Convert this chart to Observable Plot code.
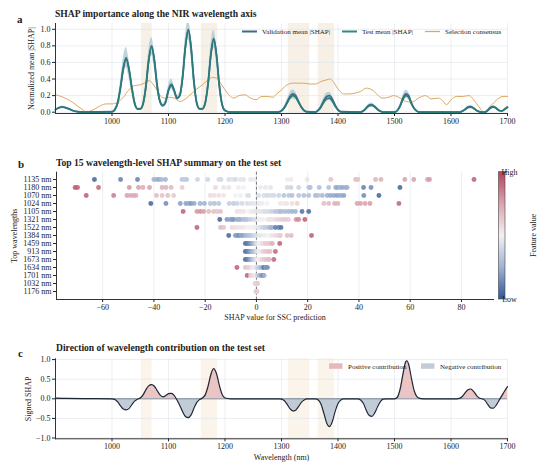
<!DOCTYPE html>
<html><head><meta charset="utf-8">
<script src="https://cdn.jsdelivr.net/npm/d3@7"></script>
<script src="https://cdn.jsdelivr.net/npm/@observablehq/plot@0.6"></script>
<style>
body{margin:0;background:#fff;}
#root{position:relative;width:550px;height:473px;overflow:hidden;background:#fff;}
</style></head>
<body><div id="root"></div>
<script>
// ---------- DATA ----------
const xTicks = [1000, 1100, 1200, 1300, 1400, 1500, 1600, 1700];
const yTicksA = [0, 0.2, 0.4, 0.6, 0.8, 1.0];
const yTicksC = [-1, -0.5, 0, 0.5, 1];
const xTicksB = [-60, -40, -20, 0, 20, 40, 60, 80];
const highlightBands = [[1052, 1071], [1158, 1187], [1312, 1350], [1365, 1394]];

const testMean = [[900,0.03],[905,0.05],[912,0.062],[920,0.05],[930,0.02],[940,0.005],[950,0],[1000,0.005],[1005,0.03],[1010,0.11],[1015,0.3],[1020,0.54],[1025,0.66],[1030,0.53],[1035,0.3],[1040,0.11],[1045,0.04],[1050,0.04],[1055,0.1],[1060,0.3],[1065,0.62],[1070,0.79],[1075,0.62],[1080,0.31],[1085,0.13],[1090,0.08],[1095,0.13],[1100,0.27],[1105,0.34],[1110,0.27],[1115,0.17],[1120,0.2],[1125,0.42],[1130,0.79],[1135,1.0],[1140,0.78],[1145,0.37],[1150,0.11],[1155,0.04],[1160,0.04],[1165,0.11],[1170,0.34],[1175,0.7],[1180,0.89],[1185,0.69],[1190,0.32],[1195,0.09],[1200,0.02],[1210,0],[1290,0],[1295,0.003],[1300,0.015],[1305,0.05],[1310,0.11],[1315,0.17],[1320,0.2],[1325,0.18],[1330,0.12],[1335,0.06],[1340,0.02],[1345,0.005],[1360,0],[1365,0.02],[1370,0.06],[1375,0.12],[1380,0.16],[1385,0.17],[1390,0.13],[1395,0.07],[1400,0.025],[1405,0.005],[1440,0],[1445,0.015],[1450,0.045],[1455,0.075],[1460,0.08],[1465,0.06],[1470,0.03],[1475,0.01],[1480,0],[1500,0],[1505,0.02],[1510,0.07],[1515,0.15],[1520,0.2],[1525,0.18],[1530,0.1],[1535,0.04],[1540,0.01],[1545,0],[1615,0],[1620,0.01],[1625,0.03],[1630,0.055],[1635,0.06],[1640,0.045],[1645,0.02],[1650,0.005],[1655,0],[1660,0],[1665,0.02],[1670,0.05],[1675,0.06],[1680,0.045],[1685,0.02],[1690,0.015],[1695,0.035],[1700,0.06]];

const validationMean = [[900,0.03],[905,0.05],[912,0.06],[920,0.05],[930,0.02],[940,0.005],[950,0],[1000,0.005],[1005,0.03],[1010,0.11],[1015,0.29],[1020,0.52],[1025,0.64],[1030,0.52],[1035,0.3],[1040,0.11],[1045,0.04],[1050,0.04],[1055,0.1],[1060,0.31],[1065,0.63],[1070,0.8],[1075,0.63],[1080,0.32],[1085,0.13],[1090,0.08],[1095,0.12],[1100,0.26],[1105,0.32],[1110,0.26],[1115,0.17],[1120,0.2],[1125,0.42],[1130,0.79],[1135,0.99],[1140,0.78],[1145,0.37],[1150,0.11],[1155,0.04],[1160,0.04],[1165,0.11],[1170,0.34],[1175,0.69],[1180,0.88],[1185,0.69],[1190,0.32],[1195,0.09],[1200,0.02],[1210,0],[1290,0],[1295,0.004],[1300,0.017],[1305,0.055],[1310,0.12],[1315,0.19],[1320,0.22],[1325,0.2],[1330,0.13],[1335,0.065],[1340,0.02],[1345,0.005],[1360,0],[1365,0.025],[1370,0.07],[1375,0.14],[1380,0.19],[1385,0.2],[1390,0.155],[1395,0.085],[1400,0.03],[1405,0.005],[1440,0],[1445,0.017],[1450,0.05],[1455,0.085],[1460,0.09],[1465,0.068],[1470,0.035],[1475,0.012],[1480,0],[1500,0],[1505,0.02],[1510,0.08],[1515,0.17],[1520,0.22],[1525,0.2],[1530,0.11],[1535,0.045],[1540,0.012],[1545,0],[1615,0],[1620,0.012],[1625,0.035],[1630,0.062],[1635,0.068],[1640,0.05],[1645,0.022],[1650,0.006],[1655,0],[1660,0],[1665,0.022],[1670,0.055],[1675,0.066],[1680,0.05],[1685,0.022],[1690,0.015],[1695,0.035],[1700,0.06]];

// [wavelength, low, high] of the shaded spread
const spreadBand = [[900,0.025,0.04],[905,0.04,0.06],[912,0.05,0.075],[920,0.04,0.06],[930,0.015,0.025],[940,0.003,0.008],[950,0,0.002],[1000,0.003,0.008],[1005,0.02,0.04],[1010,0.08,0.14],[1015,0.23,0.37],[1020,0.43,0.65],[1025,0.54,0.78],[1030,0.42,0.64],[1035,0.23,0.37],[1040,0.08,0.14],[1045,0.03,0.05],[1050,0.03,0.05],[1055,0.07,0.13],[1060,0.24,0.37],[1065,0.52,0.74],[1070,0.69,0.9],[1075,0.52,0.74],[1080,0.25,0.38],[1085,0.1,0.16],[1090,0.06,0.1],[1095,0.1,0.16],[1100,0.22,0.32],[1105,0.28,0.4],[1110,0.22,0.32],[1115,0.14,0.2],[1120,0.16,0.24],[1125,0.34,0.51],[1130,0.67,0.92],[1135,0.88,1.12],[1140,0.66,0.91],[1145,0.3,0.44],[1150,0.08,0.14],[1155,0.03,0.05],[1160,0.03,0.05],[1165,0.08,0.14],[1170,0.27,0.41],[1175,0.59,0.81],[1180,0.78,0.99],[1185,0.58,0.8],[1190,0.25,0.39],[1195,0.07,0.11],[1200,0.015,0.025],[1210,0,0.002],[1290,0,0.002],[1295,0.002,0.006],[1300,0.012,0.022],[1305,0.04,0.07],[1310,0.09,0.15],[1315,0.14,0.23],[1320,0.16,0.27],[1325,0.15,0.24],[1330,0.1,0.16],[1335,0.05,0.08],[1340,0.015,0.03],[1345,0.003,0.007],[1360,0,0.002],[1365,0.015,0.03],[1370,0.05,0.09],[1375,0.1,0.17],[1380,0.13,0.23],[1385,0.14,0.24],[1390,0.11,0.19],[1395,0.06,0.1],[1400,0.02,0.04],[1405,0.003,0.007],[1440,0,0.002],[1445,0.012,0.022],[1450,0.037,0.062],[1455,0.062,0.1],[1460,0.066,0.11],[1465,0.05,0.082],[1470,0.025,0.042],[1475,0.008,0.015],[1480,0,0.002],[1500,0,0.002],[1505,0.016,0.026],[1510,0.058,0.095],[1515,0.125,0.2],[1520,0.17,0.265],[1525,0.15,0.24],[1530,0.085,0.135],[1535,0.033,0.055],[1540,0.008,0.015],[1545,0,0.002],[1615,0,0.002],[1620,0.008,0.014],[1625,0.025,0.042],[1630,0.046,0.074],[1635,0.05,0.08],[1640,0.037,0.06],[1645,0.016,0.027],[1650,0.004,0.008],[1655,0,0.002],[1660,0,0.002],[1665,0.016,0.027],[1670,0.042,0.066],[1675,0.05,0.08],[1680,0.037,0.06],[1685,0.016,0.027],[1690,0.012,0.02],[1695,0.03,0.046],[1700,0.05,0.075]];

const selectionConsensus = [[900,0.21],[910,0.19],[920,0.16],[930,0.12],[940,0.07],[950,0.02],[955,0.0],[960,0.01],[970,0.04],[980,0.08],[990,0.1],[1000,0.1],[1010,0.12],[1020,0.18],[1030,0.27],[1040,0.32],[1050,0.33],[1060,0.36],[1065,0.38],[1070,0.36],[1080,0.26],[1088,0.18],[1095,0.17],[1100,0.18],[1110,0.17],[1120,0.13],[1130,0.16],[1140,0.22],[1150,0.28],[1160,0.33],[1170,0.39],[1178,0.42],[1185,0.41],[1190,0.37],[1200,0.27],[1208,0.2],[1215,0.17],[1225,0.2],[1235,0.21],[1245,0.17],[1255,0.15],[1265,0.19],[1275,0.19],[1285,0.18],[1290,0.21],[1300,0.27],[1310,0.33],[1320,0.35],[1330,0.35],[1340,0.35],[1350,0.34],[1360,0.34],[1370,0.37],[1380,0.39],[1385,0.4],[1390,0.38],[1400,0.28],[1410,0.22],[1420,0.22],[1430,0.23],[1440,0.25],[1450,0.29],[1460,0.27],[1470,0.21],[1478,0.17],[1490,0.18],[1498,0.2],[1510,0.17],[1520,0.13],[1530,0.12],[1545,0.18],[1555,0.2],[1565,0.16],[1578,0.17],[1585,0.14],[1592,0.09],[1600,0.15],[1610,0.19],[1620,0.19],[1632,0.2],[1640,0.15],[1650,0.06],[1658,0.0],[1665,0.04],[1675,0.11],[1685,0.17],[1692,0.19],[1700,0.19]];

const signedShap = [[900,0.015],[920,0.01],[950,0.005],[1000,0],[1005,-0.02],[1010,-0.08],[1015,-0.18],[1020,-0.26],[1025,-0.28],[1030,-0.25],[1035,-0.15],[1040,-0.06],[1045,-0.01],[1050,0.02],[1055,0.1],[1060,0.23],[1065,0.33],[1070,0.36],[1075,0.32],[1080,0.21],[1085,0.1],[1090,0.05],[1095,0.08],[1100,0.13],[1105,0.14],[1110,0.09],[1115,-0.03],[1120,-0.17],[1125,-0.33],[1130,-0.45],[1135,-0.48],[1140,-0.41],[1145,-0.24],[1150,-0.09],[1155,-0.02],[1160,0.02],[1165,0.1],[1170,0.32],[1175,0.62],[1180,0.77],[1185,0.64],[1190,0.34],[1195,0.11],[1200,0.02],[1210,0],[1295,0],[1300,-0.01],[1305,-0.05],[1310,-0.14],[1315,-0.25],[1320,-0.31],[1325,-0.29],[1330,-0.2],[1335,-0.09],[1340,-0.03],[1345,0],[1360,0],[1365,-0.03],[1370,-0.14],[1375,-0.37],[1380,-0.62],[1385,-0.71],[1390,-0.58],[1395,-0.32],[1400,-0.12],[1405,-0.03],[1410,0],[1435,0],[1440,-0.03],[1445,-0.12],[1450,-0.29],[1455,-0.42],[1460,-0.45],[1465,-0.36],[1470,-0.2],[1475,-0.07],[1480,-0.01],[1485,0],[1500,0],[1505,0.04],[1510,0.25],[1515,0.63],[1520,0.95],[1522,0.97],[1525,0.88],[1530,0.52],[1535,0.2],[1540,0.05],[1545,0.01],[1550,0],[1610,0],[1615,0.01],[1620,0.06],[1625,0.15],[1630,0.23],[1635,0.25],[1640,0.19],[1645,0.09],[1650,0.02],[1655,0],[1660,-0.04],[1665,-0.14],[1670,-0.23],[1675,-0.24],[1680,-0.16],[1685,-0.04],[1690,0.08],[1695,0.2],[1700,0.31]];

// Panel b: [SHAP value, normalized feature value]
const wavelengths = ["1135 nm","1180 nm","1070 nm","1024 nm","1105 nm","1321 nm","1522 nm","1384 nm","1459 nm","913 nm","1673 nm","1634 nm","1701 nm","1032 nm","1176 nm"];
const shap1135 = [[-63.2,0.05],[-53,0.12],[-46.4,0.12],[-40,0.25],[-39,0.25],[-38,0.22],[-37,0.28],[-35.5,0.25],[-29,0.32],[-28,0.35],[-27.2,0.33],[-23,0.38],[-19,0.38],[-14.7,0.42],[-13.8,0.4],[-10.8,0.42],[-9.5,0.44],[-8.2,0.4],[-6.3,0.45],[-5,0.44],[-2.3,0.46],[-1,0.47],[12,0.52],[13.5,0.53],[19.8,0.55],[29,0.65],[38.7,0.68],[39.6,0.66],[46.5,0.7],[48.6,0.7],[57.9,0.75],[61.4,0.75],[66.7,0.72],[67.5,0.78],[84.9,0.92]];
const shap1180 = [[-70.7,0.95],[-69.8,0.92],[-61.6,0.9],[-49.6,0.78],[-46,0.75],[-44.3,0.72],[-41.7,0.75],[-36.8,0.7],[-35.3,0.7],[-33.3,0.68],[-29,0.62],[-16,0.58],[-12.8,0.55],[-10.8,0.55],[-7,0.52],[-5,0.5],[1.6,0.47],[3.5,0.46],[5.5,0.45],[12,0.4],[13.5,0.38],[16.5,0.38],[20.4,0.33],[21,0.3],[24.5,0.3],[28.2,0.3],[30.9,0.25],[31.5,0.22],[32.5,0.25],[33.5,0.22],[34.8,0.23],[35.4,0.25],[41.8,0.12],[44.7,0.15],[56,0.05]];
const shap1070 = [[-66.4,0.93],[-55.7,0.85],[-50.5,0.75],[-49.2,0.73],[-47.9,0.75],[-47,0.72],[-39,0.67],[-36.8,0.65],[-34.6,0.66],[-32.3,0.63],[-18,0.57],[-16.5,0.56],[-14.7,0.56],[-12.8,0.54],[-8.2,0.5],[-6.2,0.49],[-3.6,0.45],[-3,0.42],[0.9,0.43],[2.9,0.42],[4.2,0.4],[5.5,0.41],[6.8,0.4],[8.7,0.38],[10.7,0.32],[12.6,0.33],[13.9,0.3],[16.5,0.32],[18.5,0.3],[20.4,0.3],[23,0.28],[24,0.3],[25.7,0.27],[27.6,0.25],[28.9,0.22],[30.2,0.22],[31.5,0.2],[32.8,0.22],[34.1,0.2],[41.9,0.15],[47.8,0.05]];
const shap1024 = [[-41.2,0.05],[-35.3,0.15],[-29.7,0.2],[-27.5,0.2],[-26.4,0.22],[-25.5,0.18],[-24.3,0.22],[-22,0.25],[-20.3,0.25],[-18,0.32],[-16.4,0.3],[-14.7,0.32],[-10.6,0.36],[-8.9,0.35],[-7.5,0.38],[-5.6,0.4],[-3.6,0.42],[-2.2,0.44],[-1,0.45],[0.9,0.47],[2.2,0.48],[4.2,0.5],[9.4,0.54],[10.5,0.52],[11.8,0.55],[13.9,0.56],[15.9,0.6],[26.3,0.66],[28.2,0.68],[30.5,0.72],[31.8,0.7],[39.3,0.74],[40.6,0.75],[42.4,0.74],[44.3,0.76],[55.6,0.9]];
const shap1105 = [[-28.6,0.92],[-23.2,0.78],[-21.9,0.8],[-20.6,0.76],[-18.6,0.68],[-16.7,0.66],[-15.4,0.64],[-14,0.66],[-7.5,0.56],[-6.3,0.54],[-5,0.55],[-3,0.5],[-2,0.48],[-1,0.46],[0.3,0.45],[1.5,0.44],[2.8,0.42],[3.4,0.43],[4,0.42],[5.2,0.4],[6.2,0.38],[7.4,0.32],[8.7,0.3],[9.3,0.3],[10,0.3],[11.3,0.28],[12.6,0.27],[13.9,0.25],[15.2,0.25],[17.8,0.08],[20.4,0.06]];
const shap1321 = [[-14.3,0.05],[-11.5,0.18],[-10.2,0.2],[-9.5,0.2],[-8.9,0.18],[-7.5,0.22],[-6.8,0.25],[-6.3,0.25],[-5,0.28],[-4.2,0.3],[-3.6,0.32],[-2.3,0.35],[-1,0.4],[0.9,0.48],[1.8,0.5],[2.5,0.5],[4.3,0.52],[5,0.55],[6,0.55],[7.4,0.58],[8.7,0.6],[10,0.62],[11.3,0.64],[12.5,0.62],[15.5,0.8],[16.5,0.82],[18.9,0.92]];
const shap1522 = [[-23.2,0.92],[-14,0.68],[-12.8,0.65],[-9.5,0.58],[-8.2,0.56],[-7,0.55],[-5.6,0.54],[-4.3,0.52],[-3,0.5],[-2.3,0.5],[-1.7,0.5],[-0.5,0.48],[0.9,0.45],[1.5,0.44],[2.2,0.4],[3,0.38],[3.5,0.35],[4.8,0.3],[5.5,0.28],[6,0.25],[7.4,0.1],[8.7,0.12],[9.6,0.08]];
const shap1384 = [[-10.8,0.05],[-8.2,0.18],[-7.5,0.2],[-6.8,0.15],[-6,0.22],[-5.3,0.2],[-4.5,0.25],[-3.6,0.28],[-2.8,0.3],[-2,0.33],[-1,0.38],[0,0.42],[1.5,0.45],[3,0.48],[4.5,0.5],[6,0.55],[7.4,0.58],[8.7,0.6],[9.4,0.62],[12,0.66],[13.6,0.68],[21.5,0.92]];
const shap1459 = [[-4.3,0.05],[-3.6,0.1],[-3,0.12],[-2.3,0.18],[-1.7,0.22],[-1,0.3],[-0.3,0.38],[0.4,0.45],[1.2,0.5],[2,0.55],[2.8,0.58],[3.6,0.62],[4.5,0.62],[5.5,0.65],[6.2,0.7],[9.1,0.92]];
const shap913 = [[-4.3,0.05],[-3.6,0.1],[-3,0.15],[-2.3,0.2],[-1.7,0.25],[-1,0.3],[-0.3,0.38],[0.4,0.45],[1.2,0.5],[2,0.55],[2.8,0.6],[3.6,0.62],[4.5,0.65],[5.3,0.66],[7.4,0.9]];
const shap1673 = [[-4.3,0.05],[-3.6,0.1],[-3,0.15],[-2.3,0.22],[-1.5,0.3],[-0.8,0.38],[0,0.45],[0.8,0.5],[1.6,0.55],[2.4,0.6],[3.2,0.62],[4,0.65],[5,0.68],[6.8,0.9]];
const shap1634 = [[-7.6,0.92],[-4.3,0.65],[-3,0.62],[-1.8,0.55],[-0.8,0.48],[0.2,0.4],[1.2,0.32],[2,0.25],[2.9,0.06],[3.6,0.2],[4.3,0.15]];
const shap1701 = [[-3.6,0.92],[-2.3,0.62],[-1.3,0.58],[-0.5,0.52],[0.3,0.4],[1,0.3],[1.8,0.2],[2.6,0.12],[3,0.25]];
const shap1032 = [[-0.5,0.6],[-0.3,0.62],[-0.1,0.6],[0.1,0.58],[0.3,0.6],[0.5,0.62]];
const shap1176 = [[-0.2,0.62],[0,0.6],[0.2,0.62]];
const shapRows = [shap1135, shap1180, shap1070, shap1024, shap1105, shap1321, shap1522, shap1384, shap1459, shap913, shap1673, shap1634, shap1701, shap1032, shap1176];

// ---------- RENDER ----------
const FONT = '"Liberation Serif","Times New Roman",serif';
const root = document.getElementById("root");
const baseStyle = {fontFamily: FONT, fontSize: "8px", color: "#222", background: "transparent", overflow: "visible"};
const gridColor = "#e3e6ec";
const fmt1 = d3.format(".1f");
function place(svg, top) {
  svg.style.position = "absolute"; svg.style.left = "0px"; svg.style.top = top + "px";
  root.appendChild(svg);
}

// Panel a
const pa = Plot.plot({
  width: 550, height: 128, marginLeft: 55, marginRight: 43, marginTop: 23, marginBottom: 15,
  style: baseStyle,
  x: {domain: [900, 1700]},
  y: {domain: [-0.016, 1.07]},
  marks: [
    Plot.rect(highlightBands, {x1: d => d[0], x2: d => d[1], fill: "#f6f0e6"}),
    Plot.gridX(xTicks, {stroke: gridColor, strokeOpacity: 1, strokeWidth: 0.7}),
    Plot.gridY(yTicksA, {stroke: gridColor, strokeOpacity: 1, strokeWidth: 0.7}),
    Plot.areaY(spreadBand, {x: d => d[0], y1: d => d[1], y2: d => d[2], fill: "#a7c0cd", fillOpacity: 0.7, curve: "monotone-x", clip: true}),
    Plot.line(selectionConsensus, {x: d => d[0], y: d => d[1], stroke: "#dba85f", strokeWidth: 1, curve: "monotone-x"}),
    Plot.line(validationMean, {x: d => d[0], y: d => d[1], stroke: "#3d6a8c", strokeWidth: 1.8, curve: "monotone-x"}),
    Plot.line(testMean, {x: d => d[0], y: d => d[1], stroke: "#2a7d77", strokeWidth: 1.6, curve: "monotone-x"}),
    Plot.axisX({ticks: xTicks, tickSize: 3, tickPadding: 2, tickFormat: d => String(d), label: null}),
    Plot.axisY({ticks: yTicksA, tickSize: 3, tickPadding: 2, tickFormat: fmt1, label: "Normalized mean |SHAP|", labelAnchor: "center", labelOffset: 27, labelArrow: "none"}),
    Plot.frame({anchor: "left", stroke: "#333"}),
    Plot.frame({anchor: "bottom", stroke: "#333"})
  ]
});
place(pa, 0);

// Panel b
const colFn = d3.piecewise(d3.interpolateRgb, ["#2f5795", "#9fb3d3", "#f3f1f1", "#dba2ae", "#b6435c"]);
const dots = [];
shapRows.forEach((row, i) => row.forEach(([s, f]) => dots.push({w: wavelengths[i], shap: s, f})));
const pb = Plot.plot({
  width: 550, height: 175, marginLeft: 56, marginRight: 57, marginTop: 21.7, marginBottom: 26,
  style: baseStyle,
  x: {domain: [-78, 92.5]},
  y: {type: "point", domain: wavelengths, padding: 0.82},
  marks: [
    Plot.gridX(xTicksB, {stroke: gridColor, strokeOpacity: 1, strokeWidth: 0.7}),
    Plot.ruleX([0], {stroke: "#666", strokeDasharray: "3,2", strokeWidth: 0.9}),
    Plot.dot(dots, {x: "shap", y: "w", r: 2.45, fill: d => colFn(d.f), fillOpacity: 0.88}),
    Plot.axisX({ticks: xTicksB, tickSize: 3, tickPadding: 2, tickFormat: d3.format("d"), label: "SHAP value for SSC prediction", labelAnchor: "center", labelOffset: 20, labelArrow: "none"}),
    Plot.axisY({tickSize: 3, tickPadding: 2, label: "Top wavelengths", labelAnchor: "center", labelOffset: 45, labelArrow: "none"}),
    Plot.frame({anchor: "left", stroke: "#333"}),
    Plot.frame({anchor: "bottom", stroke: "#333"})
  ]
});
{
  const s = d3.select(pb);
  const grad = s.append("defs").append("linearGradient").attr("id", "fvgrad").attr("x1", 0).attr("x2", 0).attr("y1", 1).attr("y2", 0);
  d3.range(0, 1.0001, 0.05).forEach(t => grad.append("stop").attr("offset", t).attr("stop-color", colFn(t)));
  const y0 = 21.7, y1 = 149;
  s.append("rect").attr("x", 498.5).attr("y", y0).attr("width", 6.5).attr("height", y1 - y0).attr("fill", "url(#fvgrad)").attr("stroke", "#444").attr("stroke-width", 0.6);
  s.append("line").attr("x1", 505).attr("x2", 507.5).attr("y1", y0).attr("y2", y0).attr("stroke", "#444");
  s.append("line").attr("x1", 505).attr("x2", 507.5).attr("y1", y1).attr("y2", y1).attr("stroke", "#444");
  const t = s.append("g").attr("font-family", FONT).attr("font-size", 8).attr("fill", "#222");
  t.append("text").attr("x", 509.5).attr("y", y0 + 2.8).text("High");
  t.append("text").attr("x", 509.5).attr("y", y1 + 2.8).text("Low");
  t.append("text").attr("transform", `translate(536,${(y0 + y1) / 2}) rotate(-90)`).attr("text-anchor", "middle").text("Feature value");
}
place(pb, 150);

// Panel c
const pc = Plot.plot({
  width: 550, height: 138, marginLeft: 55, marginRight: 43, marginTop: 23.3, marginBottom: 34.7,
  style: baseStyle,
  x: {domain: [900, 1700]},
  y: {domain: [-1.02, 1.02]},
  marks: [
    Plot.rect(highlightBands, {x1: d => d[0], x2: d => d[1], fill: "#faf4ea"}),
    Plot.gridX(xTicks, {stroke: gridColor, strokeOpacity: 1, strokeWidth: 0.7}),
    Plot.gridY(yTicksC, {stroke: gridColor, strokeOpacity: 1, strokeWidth: 0.7}),
    Plot.areaY(signedShap, {x: d => d[0], y: d => Math.max(0, d[1]), fill: "#e9bfc0", fillOpacity: 0.9, curve: "monotone-x"}),
    Plot.areaY(signedShap, {x: d => d[0], y: d => Math.min(0, d[1]), fill: "#bac6d3", fillOpacity: 0.9, curve: "monotone-x"}),
    Plot.ruleY([0], {stroke: "#6b7785", strokeWidth: 0.8}),
    Plot.line(signedShap, {x: d => d[0], y: d => d[1], stroke: "#1e2734", strokeWidth: 1.2, curve: "monotone-x"}),
    Plot.axisX({ticks: xTicks, tickSize: 3, tickPadding: 2, tickFormat: d => String(d), label: "Wavelength (nm)", labelAnchor: "center", labelOffset: 21, labelArrow: "none"}),
    Plot.axisY({ticks: yTicksC, tickSize: 3, tickPadding: 2, tickFormat: fmt1, label: "Signed SHAP", labelAnchor: "center", labelOffset: 30, labelArrow: "none"}),
    Plot.frame({anchor: "left", stroke: "#333"}),
    Plot.frame({anchor: "bottom", stroke: "#333"})
  ]
});
place(pc, 335);

// Overlay: titles, panel letters, legends
const ov = d3.select(root).append("svg").attr("width", 550).attr("height", 473)
  .style("position", "absolute").style("left", 0).style("top", 0).style("pointer-events", "none")
  .attr("font-family", FONT).attr("fill", "#222");
const titles = [
  {x: 55, y: 16.5, t: "SHAP importance along the NIR wavelength axis"},
  {x: 56, y: 165.5, t: "Top 15 wavelength-level SHAP summary on the test set"},
  {x: 56, y: 351, t: "Direction of wavelength contribution on the test set"}
];
titles.forEach(d => ov.append("text").attr("x", d.x).attr("y", d.y).attr("font-size", 9.6).attr("font-weight", "bold").text(d.t));
[["a", 17, 23], ["b", 18, 168], ["c", 18, 357]].forEach(([l, x, y]) =>
  ov.append("text").attr("x", x).attr("y", y).attr("font-size", 11).attr("font-weight", "bold").text(l));
const legA = [
  {x: 242, c: "#3d6a8c", w: 2, t: "Validation mean |SHAP|"},
  {x: 342, c: "#2f8a82", w: 2, t: "Test mean |SHAP|"},
  {x: 425, c: "#dba85f", w: 1.3, t: "Selection consensus"}
];
legA.forEach(d => {
  ov.append("line").attr("x1", d.x).attr("x2", d.x + 15).attr("y1", 31.5).attr("y2", 31.5).attr("stroke", d.c).attr("stroke-width", d.w);
  ov.append("text").attr("x", d.x + 20).attr("y", 34).attr("font-size", 7).text(d.t);
});
const legC = [
  {x: 329, c: "#e6b8bb", t: "Positive contribution"},
  {x: 421, c: "#c3cdd9", t: "Negative contribution"}
];
legC.forEach(d => {
  ov.append("rect").attr("x", d.x).attr("y", 363.3).attr("width", 13.5).attr("height", 5.5).attr("fill", d.c);
  ov.append("text").attr("x", d.x + 19).attr("y", 368.8).attr("font-size", 7).text(d.t);
});
</script></body></html>
